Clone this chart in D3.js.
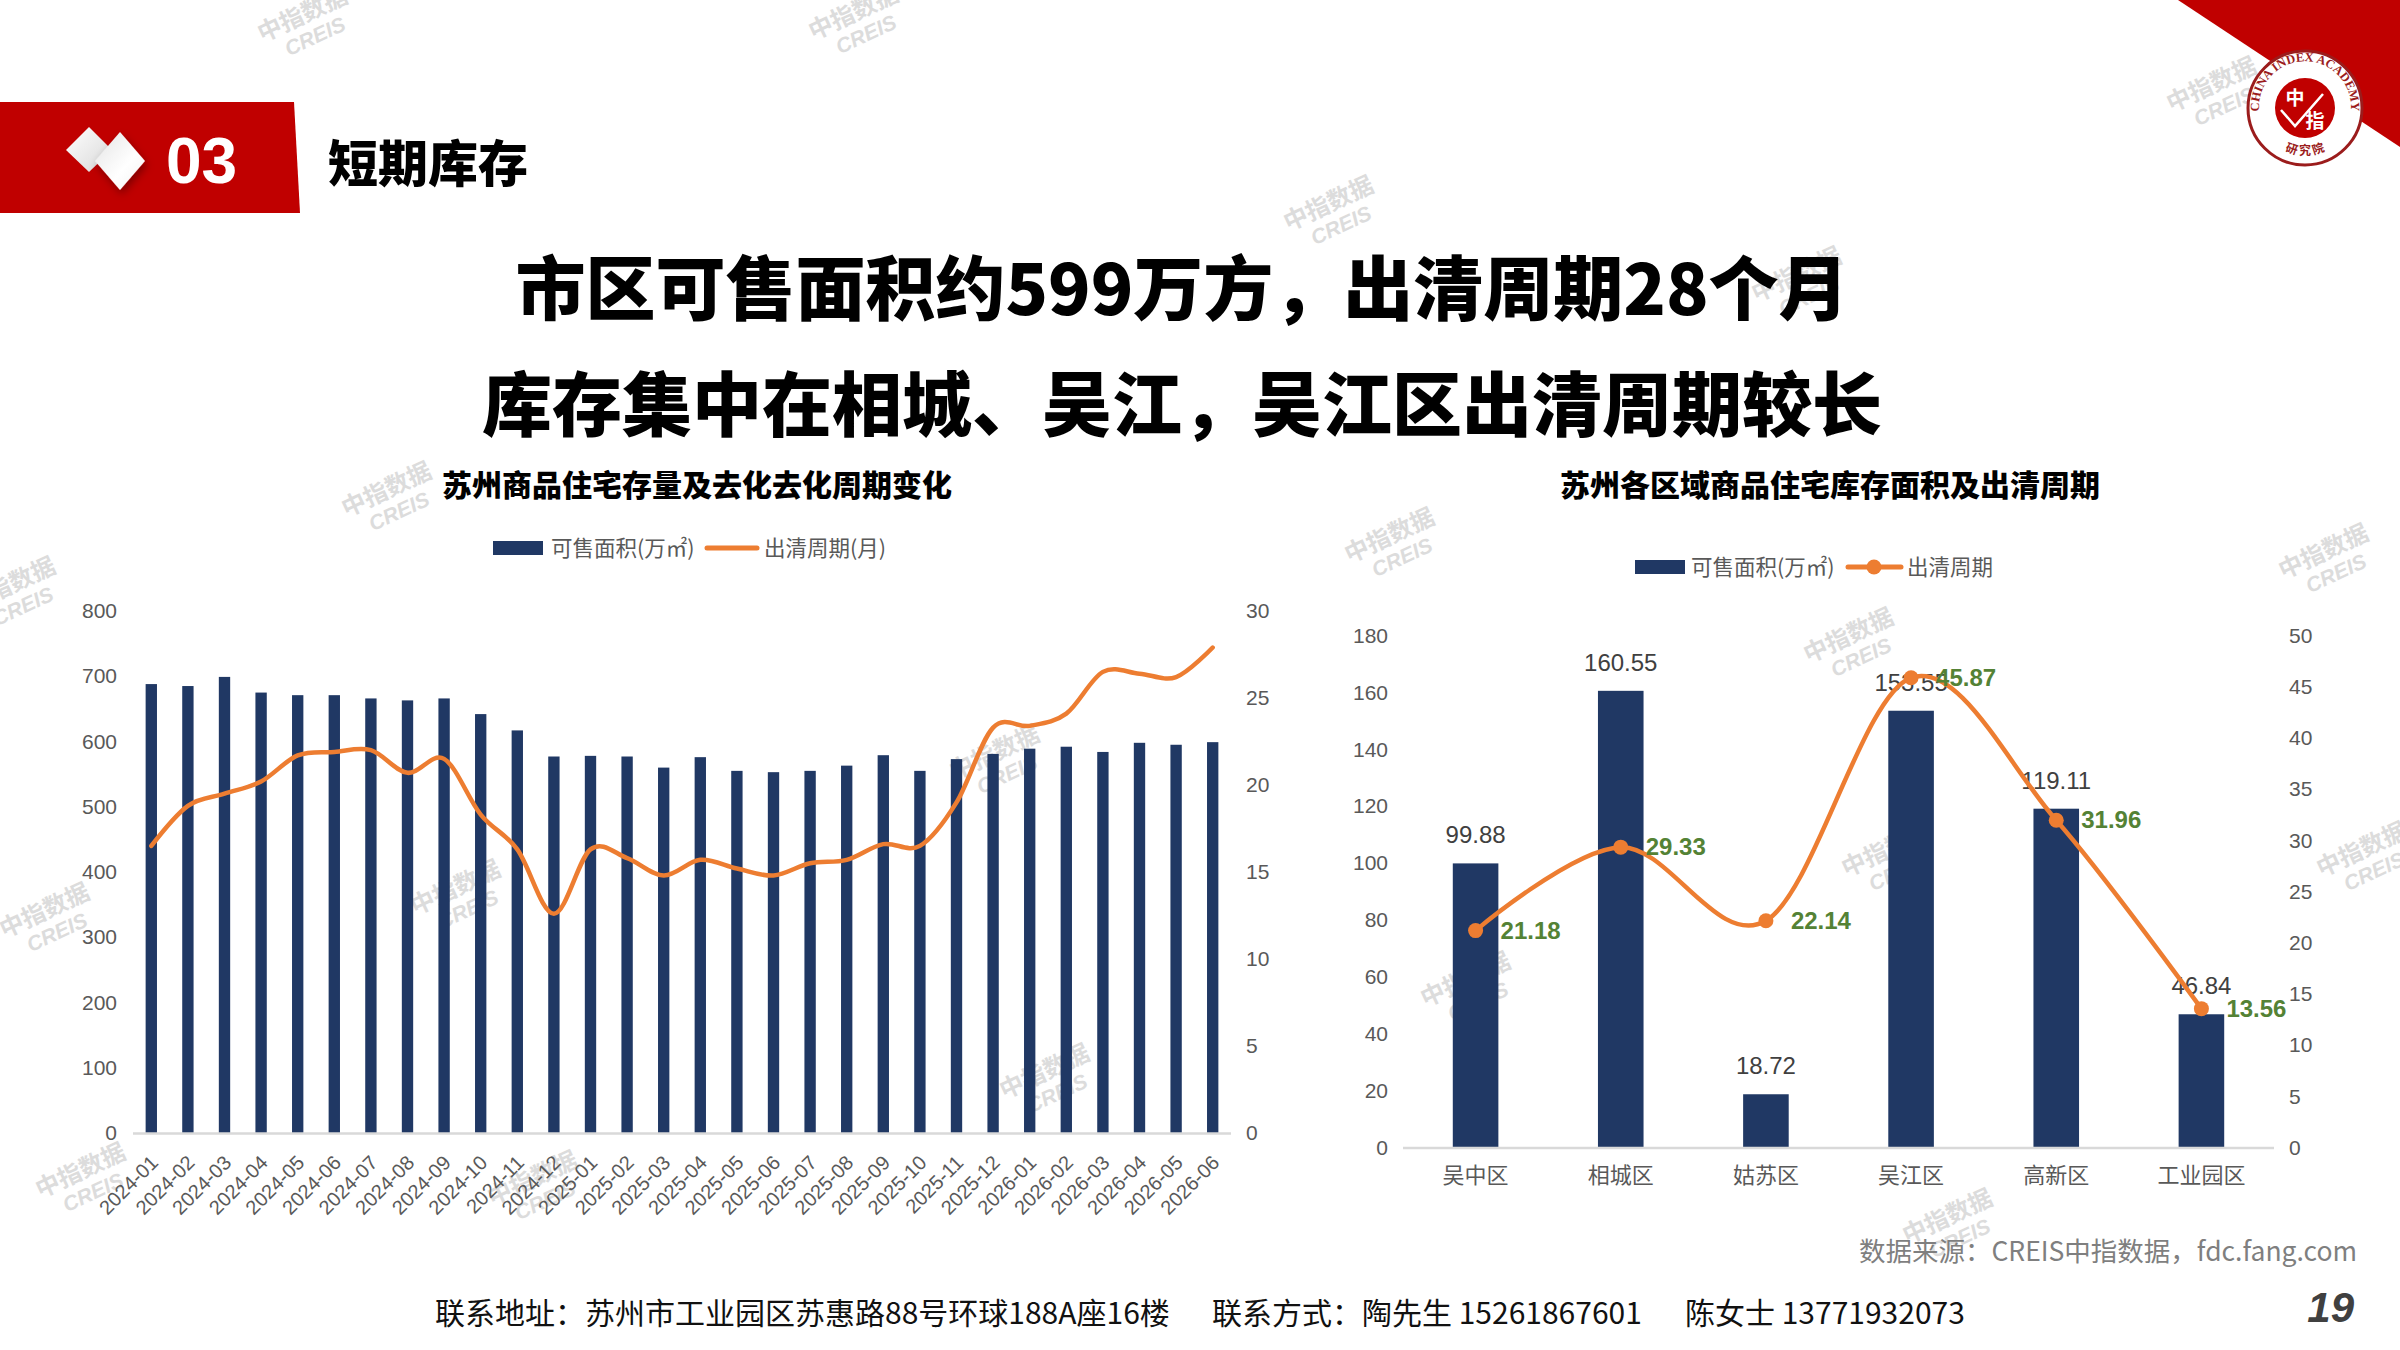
<!doctype html>
<html lang="zh">
<head>
<meta charset="utf-8">
<title>短期库存</title>
<script src="https://d3js.org/d3.v7.min.js"></script>
<style>
  body { margin: 0; background: #fff; }
  svg { display: block; }
</style>
</head>
<body>
<div id="page"></div>
<script>
// ---- data ----
var months = ['2024-01','2024-02','2024-03','2024-04','2024-05','2024-06','2024-07','2024-08','2024-09','2024-10','2024-11','2024-12',
              '2025-01','2025-02','2025-03','2025-04','2025-05','2025-06','2025-07','2025-08','2025-09','2025-10','2025-11','2025-12',
              '2026-01','2026-02','2026-03','2026-04','2026-05','2026-06'];
var saleArea = [688,685,699,675,671,671,666,663,666,642,617,577,578,577,560,576,555,553,555,563,579,555,573,581,589,592,584,598,595,599];
var clearCycle = [16.5,18.8,19.5,20.2,21.7,21.9,22.0,20.7,21.5,18.3,16.3,12.6,16.3,15.8,14.8,15.7,15.2,14.8,15.5,15.7,16.6,16.5,19.0,23.3,23.4,24.1,26.5,26.4,26.2,27.9];
var leftTicks = [0,100,200,300,400,500,600,700,800];
var rightTicks = [0,5,10,15,20,25,30];

var districts = ['吴中区','相城区','姑苏区','吴江区','高新区','工业园区'];
var districtArea = [99.88,160.55,18.72,153.55,119.11,46.84];
var districtCycle = [21.18,29.33,22.14,45.87,31.96,13.56];
var areaTicks = [0,20,40,60,80,100,120,140,160,180];
var cycleTicks = [0,5,10,15,20,25,30,35,40,45,50];

var watermarks = [[306,22],[857,20],[1332,211],[1800,282],[390,497],[14,592],[1393,543],[2327,559],[1852,643],
                  [48,918],[459,895],[998,760],[1890,857],[1469,987],[2365,857],[84,1178],[536,1186],[1048,1079],[1951,1224],[2215,92]];

var CN = '"Noto Sans CJK SC", "Microsoft YaHei", sans-serif';
var NUM = '"Liberation Sans", Arial, "Noto Sans CJK SC", sans-serif';
var NAVY = '#203864', ORANGE = '#ED7D31', GREEN = '#548235', GREY = '#595959';

var svg = d3.select('#page').append('svg')
  .attr('width', 2400).attr('height', 1350);

var defs = svg.append('defs');
var g1 = defs.append('linearGradient').attr('id','dia1').attr('x1',0).attr('y1',0).attr('x2',1).attr('y2',1);
g1.append('stop').attr('offset','0%').attr('stop-color','#ffffff');
g1.append('stop').attr('offset','100%').attr('stop-color','#d8d8d8');
var g2 = defs.append('linearGradient').attr('id','dia2').attr('x1',0).attr('y1',0).attr('x2',1).attr('y2',1);
g2.append('stop').attr('offset','0%').attr('stop-color','#e4e4e4');
g2.append('stop').attr('offset','60%').attr('stop-color','#ffffff');
g2.append('stop').attr('offset','100%').attr('stop-color','#f2f2f2');
var sh = defs.append('filter').attr('id','shadow').attr('x','-50%').attr('y','-50%').attr('width','200%').attr('height','200%');
sh.append('feDropShadow').attr('dx',2).attr('dy',4).attr('stdDeviation',4).attr('flood-color','#000').attr('flood-opacity',0.35);

// watermarks (behind everything)
var wm = svg.append('g').attr('class','watermarks');
watermarks.forEach(function(p) {
  var w = wm.append('g').attr('transform','translate('+p[0]+','+p[1]+') rotate(-25)');
  w.append('text').text('中指数据').attr('x',-48).attr('y',0)
    .style('font-family',CN).style('font-size','24px').style('font-weight',700).style('fill','#dcdcdc');
  w.append('text').text('CREIS').attr('x',-30).attr('y',24)
    .style('font-family',NUM).style('font-size','21px').style('font-style','italic').style('font-weight',700).style('fill','#dcdcdc');
});

// ---- header ----
svg.append('polygon').attr('points','0,102 294,102 300,213 0,213').attr('fill','#C00000');
svg.append('polygon').attr('points','89,127 112,150 89,172 66,150').attr('fill','url(#dia1)');
svg.append('polygon').attr('points','120,132 145,161 120,190 95,161').attr('fill','url(#dia2)').attr('filter','url(#shadow)');
svg.append('text').text('03').attr('x',166).attr('y',183)
  .style('font-family',NUM).style('font-size','64px').style('font-weight',700).style('fill','#fff');
svg.append('text').text('短期库存').attr('x',328).attr('y',182)
  .style('font-family',CN).style('font-size','50px').style('font-weight',900).style('fill','#000');

svg.append('text').text('市区可售面积约599万方，出清周期28个月').attr('x',1182).attr('y',315)
  .attr('text-anchor','middle')
  .style('font-family',CN).style('font-size','70px').style('font-weight',900).style('fill','#000');
svg.append('text').text('库存集中在相城、吴江，吴江区出清周期较长').attr('x',1182).attr('y',431)
  .attr('text-anchor','middle')
  .style('font-family',CN).style('font-size','70px').style('font-weight',900).style('fill','#000');

// logo corner
svg.append('polygon').attr('points','2178,0 2400,0 2400,147').attr('fill','#C00000');
var logo = svg.append('g').attr('transform','translate(2305,108)');
logo.append('circle').attr('r',57).attr('fill','#fff').attr('stroke','#9b1c1c').attr('stroke-width',3);
logo.append('circle').attr('r',30).attr('fill','#C00000');
defs.append('path').attr('id','ringTop').attr('d','M -40,22 A 46,46 0 1,1 40,22');
defs.append('path').attr('id','ringBot').attr('d','M -40,24 A 46,46 0 0,0 40,24');
logo.append('text').append('textPath').attr('href','#ringTop').attr('startOffset','50%').attr('text-anchor','middle')
  .text('CHINA INDEX ACADEMY')
  .style('font-family','"Liberation Serif", serif').style('font-size','12.5px').style('font-weight',700).style('fill','#9b1c1c');
logo.append('text').append('textPath').attr('href','#ringBot').attr('startOffset','50%').attr('text-anchor','middle')
  .text('研  究  院')
  .style('font-family',CN).style('font-size','12px').style('font-weight',700).style('fill','#9b1c1c');
logo.append('path').attr('d','M -24,2 L -10,18 L 18,-14').attr('fill','none').attr('stroke','#fff').attr('stroke-width',2.5);
logo.append('text').text('中').attr('x',-10).attr('y',-3).attr('text-anchor','middle')
  .style('font-family',CN).style('font-size','19px').style('font-weight',700).style('fill','#fff');
logo.append('text').text('指').attr('x',10).attr('y',20).attr('text-anchor','middle')
  .style('font-family',CN).style('font-size','19px').style('font-weight',700).style('fill','#fff');

// ---- left chart ----
var xL = d3.scaleBand().domain(months).range([133, 1231]).paddingInner(0.69).paddingOuter(0.345);
var yL = d3.scaleLinear().domain([0, 800]).range([1133, 611]);
var yR = d3.scaleLinear().domain([0, 30]).range([1133, 611]);

svg.append('text').text('苏州商品住宅存量及去化去化周期变化').attr('x',697).attr('y',496).attr('text-anchor','middle')
  .style('font-family',CN).style('font-size','30px').style('font-weight',900).style('fill','#000');

// legend
svg.append('rect').attr('x',493).attr('y',541).attr('width',50).attr('height',14).attr('fill',NAVY);
svg.append('text').text('可售面积(万㎡)').attr('x',551).attr('y',556)
  .style('font-family',CN).style('font-size','21.5px').style('fill',GREY);
svg.append('line').attr('x1',707).attr('x2',757).attr('y1',548).attr('y2',548)
  .attr('stroke',ORANGE).attr('stroke-width',5).attr('stroke-linecap','round');
svg.append('text').text('出清周期(月)').attr('x',764).attr('y',556)
  .style('font-family',CN).style('font-size','21.5px').style('fill',GREY);

svg.selectAll('.barL').data(saleArea).enter().append('rect')
  .attr('class','barL')
  .attr('x', function(d,i) { return xL(months[i]); })
  .attr('y', function(d) { return yL(d); })
  .attr('width', xL.bandwidth())
  .attr('height', function(d) { return yL(0) - yL(d); })
  .attr('fill', NAVY);

svg.append('line').attr('x1',133).attr('x2',1231).attr('y1',1133.5).attr('y2',1133.5)
  .attr('stroke','#d9d9d9').attr('stroke-width',2.5);

var lineL = d3.line()
  .x(function(d,i) { return xL(months[i]) + xL.bandwidth()/2; })
  .y(function(d) { return yR(d); })
  .curve(d3.curveCatmullRom.alpha(0));
svg.append('path').datum(clearCycle).attr('d', lineL)
  .attr('fill','none').attr('stroke',ORANGE).attr('stroke-width',4.5).attr('stroke-linecap','round');

var axL = svg.append('g').attr('transform','translate(133,0)')
  .call(d3.axisLeft(yL).tickValues(leftTicks).tickSize(0).tickPadding(16));
var axR = svg.append('g').attr('transform','translate(1231,0)')
  .call(d3.axisRight(yR).tickValues(rightTicks).tickSize(0).tickPadding(15));
var axB = svg.append('g').attr('transform','translate(0,1133)')
  .call(d3.axisBottom(xL).tickSize(0));
axB.selectAll('text')
  .attr('x',0).attr('y',0).attr('dy',0)
  .attr('text-anchor','end')
  .attr('transform','translate(8,31) rotate(-45)');
[axL, axR, axB].forEach(function(a) {
  a.select('.domain').remove();
  a.selectAll('text').style('font-family',NUM).style('font-size','21px').style('fill',GREY);
});
axB.selectAll('text').style('font-size','20px');

// ---- right chart ----
var xC = d3.scaleBand().domain(districts).range([1403, 2274]).paddingInner(0.686).paddingOuter(0.343);
var yA = d3.scaleLinear().domain([0, 180]).range([1147.5, 635.5]);
var yC = d3.scaleLinear().domain([0, 50]).range([1147.5, 635.5]);

svg.append('text').text('苏州各区域商品住宅库存面积及出清周期').attr('x',1830).attr('y',496).attr('text-anchor','middle')
  .style('font-family',CN).style('font-size','30px').style('font-weight',900).style('fill','#000');

svg.append('rect').attr('x',1635).attr('y',560).attr('width',50).attr('height',14).attr('fill',NAVY);
svg.append('text').text('可售面积(万㎡)').attr('x',1691).attr('y',575)
  .style('font-family',CN).style('font-size','21.5px').style('fill',GREY);
svg.append('line').attr('x1',1848).attr('x2',1901).attr('y1',567).attr('y2',567)
  .attr('stroke',ORANGE).attr('stroke-width',5).attr('stroke-linecap','round');
svg.append('circle').attr('cx',1874).attr('cy',567).attr('r',7.5).attr('fill',ORANGE);
svg.append('text').text('出清周期').attr('x',1907).attr('y',575)
  .style('font-family',CN).style('font-size','21.5px').style('fill',GREY);

svg.selectAll('.barC').data(districtArea).enter().append('rect')
  .attr('class','barC')
  .attr('x', function(d,i) { return xC(districts[i]); })
  .attr('y', function(d) { return yA(d); })
  .attr('width', xC.bandwidth())
  .attr('height', function(d) { return yA(0) - yA(d); })
  .attr('fill', NAVY);

svg.append('line').attr('x1',1403).attr('x2',2274).attr('y1',1148).attr('y2',1148)
  .attr('stroke','#d9d9d9').attr('stroke-width',2.5);

svg.selectAll('.barLabel').data(districtArea).enter().append('text')
  .attr('class','barLabel')
  .attr('x', function(d,i) { return xC(districts[i]) + xC.bandwidth()/2; })
  .attr('y', function(d) { return yA(d) - 20; })
  .attr('text-anchor','middle')
  .text(function(d) { return d.toFixed(2); })
  .style('font-family',NUM).style('font-size','24px').style('fill','#404040');

var cx = function(i) { return xC(districts[i]) + xC.bandwidth()/2; };
var lineC = d3.line()
  .x(function(d,i) { return cx(i); })
  .y(function(d) { return yC(d); })
  .curve(d3.curveCatmullRom.alpha(0));
svg.append('path').datum(districtCycle).attr('d', lineC)
  .attr('fill','none').attr('stroke',ORANGE).attr('stroke-width',4.5).attr('stroke-linecap','round');
svg.selectAll('.dot').data(districtCycle).enter().append('circle')
  .attr('class','dot')
  .attr('cx', function(d,i) { return cx(i); })
  .attr('cy', function(d) { return yC(d); })
  .attr('r', 7.5).attr('fill', ORANGE);
svg.selectAll('.cycLabel').data(districtCycle).enter().append('text')
  .attr('class','cycLabel')
  .attr('x', function(d,i) { return cx(i) + 25; })
  .attr('y', function(d) { return yC(d) + 8; })
  .text(function(d) { return d.toFixed(2); })
  .style('font-family',NUM).style('font-size','24px').style('font-weight',700).style('fill',GREEN);

var axA = svg.append('g').attr('transform','translate(1403,0)')
  .call(d3.axisLeft(yA).tickValues(areaTicks).tickSize(0).tickPadding(15));
var axC = svg.append('g').attr('transform','translate(2274,0)')
  .call(d3.axisRight(yC).tickValues(cycleTicks).tickSize(0).tickPadding(15));
var axD = svg.append('g').attr('transform','translate(0,1147.5)')
  .call(d3.axisBottom(xC).tickSize(0).tickPadding(20));
[axA, axC, axD].forEach(function(a) {
  a.select('.domain').remove();
  a.selectAll('text').style('font-family',NUM).style('font-size','21px').style('fill',GREY);
});
axD.selectAll('text').style('font-family',CN).style('font-size','22px');

// ---- footer ----
svg.append('text').text('数据来源：CREIS中指数据，fdc.fang.com').attr('x',2357).attr('y',1261).attr('text-anchor','end')
  .style('font-family',CN).style('font-size','26.5px').style('fill','#7f7f7f');
svg.append('text').text('联系地址：苏州市工业园区苏惠路88号环球188A座16楼').attr('x',435).attr('y',1324)
  .style('font-family',CN).style('font-size','30px').style('fill','#111');
svg.append('text').text('联系方式：陶先生 15261867601').attr('x',1212).attr('y',1324)
  .style('font-family',CN).style('font-size','30px').style('fill','#111');
svg.append('text').text('陈女士 13771932073').attr('x',1685).attr('y',1324)
  .style('font-family',CN).style('font-size','30px').style('fill','#111');
svg.append('text').text('19').attr('x',2354).attr('y',1322).attr('text-anchor','end')
  .style('font-family',NUM).style('font-size','42px').style('font-weight',700).style('font-style','italic').style('fill','#404040');
</script>
</body>
</html>
